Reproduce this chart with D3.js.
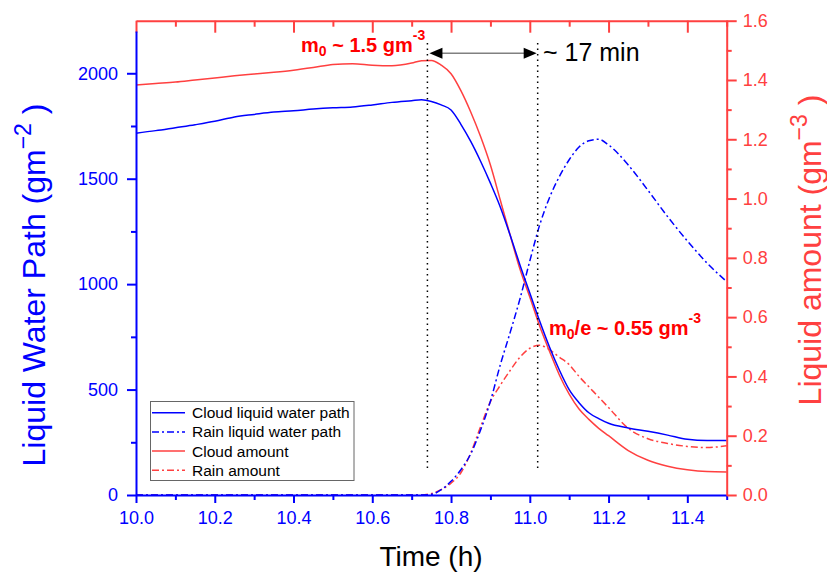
<!DOCTYPE html>
<html><head><meta charset="utf-8">
<script src="https://cdn.jsdelivr.net/npm/d3@7"></script>
<style>body{margin:0;background:#fff}svg{display:block}text{font-family:Arial,"Liberation Sans",sans-serif}</style>
</head><body>
<svg id="c" width="827" height="576"></svg>
<script>
// ---- data ----
const time = [10.00,10.05,10.10,10.15,10.20,10.25,10.30,10.35,10.40,10.45,10.50,10.55,10.60,10.65,10.70,10.725,10.75,10.775,10.80,10.825,10.85,10.875,10.90,10.925,10.95,10.975,11.00,11.025,11.05,11.075,11.10,11.125,11.15,11.175,11.20,11.25,11.30,11.35,11.40,11.45,11.50];
const cloudLWP = [1716,1728,1742,1756,1772,1793,1805,1816,1822,1830,1836,1840,1850,1862,1870,1874,1866,1850,1826,1758,1677,1583,1479,1366,1233,1091,958,825,702,593,500,438,390,362,340,318,302,284,264,258,258];
const rainLWP = [0,0,0,0,0,0,0,0,0,0,0,0,0,0,0,0,3,25,65,120,195,308,445,617,770,930,1110,1280,1410,1510,1590,1650,1680,1687,1660,1565,1445,1320,1205,1100,1012];
const cloudAmt = [1.383,1.388,1.393,1.400,1.407,1.414,1.420,1.426,1.433,1.442,1.452,1.455,1.450,1.448,1.457,1.465,1.466,1.450,1.421,1.364,1.292,1.209,1.113,0.995,0.877,0.762,0.668,0.570,0.485,0.405,0.340,0.290,0.255,0.225,0.200,0.150,0.117,0.097,0.085,0.079,0.078];
const rainAmt = [0,0,0,0,0,0,0,0,0,0,0,0,0,0,0,0,0.005,0.018,0.040,0.075,0.142,0.230,0.315,0.370,0.420,0.465,0.495,0.505,0.490,0.465,0.440,0.400,0.365,0.330,0.295,0.225,0.190,0.174,0.164,0.160,0.166];
const xTicks = [10.0,10.2,10.4,10.6,10.8,11.0,11.2,11.4];
const xMinor = [10.1,10.3,10.5,10.7,10.9,11.1,11.3,11.5];
const yLTicks = [0,500,1000,1500,2000];
const yLMinor = [250,750,1250,1750];
const yRTicks = [0,0.2,0.4,0.6,0.8,1.0,1.2,1.4,1.6];
const yRMinor = [0.1,0.3,0.5,0.7,0.9,1.1,1.3,1.5];
const legendLabels = ["Cloud liquid water path","Rain liquid water path","Cloud amount","Rain amount"];
const markTimes = [10.74, 11.02];

// ---- drawing ----
const BLUE = "#0000ff", RED = "#ff4040", RED2 = "#ff0000";
const svg = d3.select("#c");
const x = d3.scaleLinear([10, 11.5], [136, 726.7]);
const yL = d3.scaleLinear([0, 2200], [495, 31.1]);
const yR = d3.scaleLinear([0, 1.6], [495, 20.7]);

// lines (drawn first, axes on top)
const series = [
  {vals: cloudLWP, y: yL, color: BLUE, dash: null},
  {vals: rainLWP, y: yL, color: BLUE, dash: "7,3,2,3"},
  {vals: cloudAmt, y: yR, color: RED, dash: null},
  {vals: rainAmt, y: yR, color: RED, dash: "7,3,2,3"}
];
const plot = svg.append("g");
[2,3,0,1].forEach(i=>{
  const s = series[i];
  const line = d3.line().x((d,j)=>x(time[j])).y(d=>s.y(d)).curve(d3.curveMonotoneX);
  plot.append("path").attr("d", line(s.vals)).attr("fill","none")
    .attr("stroke", s.color).attr("stroke-width", 1.5)
    .attr("stroke-dasharray", s.dash);
});

function styleAxis(g, color, size) {
  g.selectAll("path,line").attr("stroke", color).attr("stroke-width", 2);
  g.selectAll("text").attr("fill", color).attr("font-size", size);
}
// bottom axis
svg.append("g").attr("transform","translate(0,495)")
  .call(d3.axisBottom(x).tickValues(xTicks).tickSize(8).tickSizeOuter(0).tickPadding(8).tickFormat(d3.format(".1f")))
  .call(g=>styleAxis(g,BLUE,"18px"));
svg.append("g").attr("transform","translate(0,495)")
  .call(d3.axisBottom(x).tickValues(xMinor).tickSize(5).tickSizeOuter(0).tickFormat(""))
  .call(g=>{styleAxis(g,BLUE,"18px");g.select(".domain").remove();});
// top axis (red, inward)
svg.append("g").attr("transform","translate(0,20.7)")
  .call(d3.axisBottom(x).tickValues(xTicks).tickSize(12).tickSizeOuter(0).tickFormat(""))
  .call(g=>styleAxis(g,RED,"18px"));
svg.append("g").attr("transform","translate(0,20.7)")
  .call(d3.axisBottom(x).tickValues(xMinor).tickSize(6).tickSizeOuter(0).tickFormat(""))
  .call(g=>{styleAxis(g,RED,"18px");g.select(".domain").remove();});
// left axis
svg.append("g").attr("transform","translate(136,0)")
  .call(d3.axisLeft(yL).tickValues(yLTicks).tickSize(9).tickSizeOuter(0).tickPadding(9).tickFormat(d3.format("d")))
  .call(g=>styleAxis(g,BLUE,"18px"));
svg.append("g").attr("transform","translate(136,0)")
  .call(d3.axisLeft(yL).tickValues(yLMinor).tickSize(5).tickSizeOuter(0).tickFormat(""))
  .call(g=>{styleAxis(g,BLUE,"18px");g.select(".domain").remove();});
// right axis
svg.append("g").attr("transform","translate(726.7,0)")
  .call(d3.axisRight(yR).tickValues(yRTicks).tickSize(10).tickSizeOuter(0).tickPadding(6).tickFormat(d3.format(".1f")))
  .call(g=>styleAxis(g,RED,"18px"));
svg.append("g").attr("transform","translate(726.7,0)")
  .call(d3.axisRight(yR).tickValues(yRMinor).tickSize(5).tickSizeOuter(0).tickFormat(""))
  .call(g=>{styleAxis(g,RED,"18px");g.select(".domain").remove();});

// dotted marker lines
markTimes.forEach(t=>{
  svg.append("line").attr("x1",x(t)).attr("x2",x(t)).attr("y1",yR(1.525)).attr("y2",yR(0.084))
    .attr("stroke","#000").attr("stroke-width",1.5).attr("stroke-dasharray","1.5,4");
});
// double arrow
const ay = yR(1.49);
svg.append("line").attr("x1",x(markTimes[0])+10).attr("x2",x(markTimes[1])-10).attr("y1",ay).attr("y2",ay)
  .attr("stroke","#808080").attr("stroke-width",1.5);
const ax0 = x(markTimes[0])+2, ax1 = x(markTimes[1])-1;
svg.append("path").attr("d",`M${ax0},${ay} l13,-5.5 l0,11 z`).attr("fill","#000");
svg.append("path").attr("d",`M${ax1},${ay} l-13,-5.5 l0,11 z`).attr("fill","#000");
svg.append("text").attr("x",543).attr("y",61).attr("font-size","25px").attr("fill","#000").text("~ 17 min");

// annotations
function annot(xp, yp, parts) {
  const t = svg.append("text").attr("x",xp).attr("y",yp).attr("font-size","20px").attr("font-weight","bold").attr("fill",RED2);
  parts.forEach(p=>{
    const ts = t.append("tspan").text(p.s);
    if (p.sub) ts.attr("font-size","14px").attr("dy",4);
    else if (p.sup) ts.attr("font-size","14px").attr("dy",-12);
    else if (p.back) ts.attr("dy",p.back);
  });
}
annot(301, 52, [{s:"m"},{s:"0",sub:true},{s:" ~ 1.5 gm",back:-4},{s:"-3",sup:true}]);
annot(549, 335, [{s:"m"},{s:"0",sub:true},{s:"/e ~ 0.55 gm",back:-4},{s:"-3",sup:true}]);

// axis titles
svg.append("text").attr("x",431).attr("y",566).attr("text-anchor","middle").attr("font-size","28px").attr("fill","#000").text("Time (h)");
const lt = svg.append("text").attr("transform","translate(45,285) rotate(-90)").attr("text-anchor","middle").attr("font-size","32px").attr("fill",BLUE);
lt.append("tspan").text("Liquid Water Path (gm");
lt.append("tspan").attr("font-size","23px").attr("dy",-14).text("\u22122");
lt.append("tspan").attr("dy",14).text(" )");
const rt = svg.append("text").attr("transform","translate(821,250) rotate(-90)").attr("text-anchor","middle").attr("font-size","32px").attr("fill",RED);
rt.append("tspan").text("Liquid amount (gm");
rt.append("tspan").attr("font-size","23px").attr("dy",-14).text("\u22123");
rt.append("tspan").attr("dy",14).text(" )");

// legend
const lg = svg.append("g");
lg.append("rect").attr("x",150.5).attr("y",401.5).attr("width",203.5).attr("height",79)
  .attr("fill","#fff").attr("stroke","#666").attr("stroke-width",1);
legendLabels.forEach((lab,i)=>{
  const s = series[i];
  const yy = 412.7 + i*19.2;
  lg.append("line").attr("x1",152).attr("x2",185).attr("y1",yy).attr("y2",yy)
    .attr("stroke",s.color).attr("stroke-width",1.5).attr("stroke-dasharray",s.dash);
  lg.append("text").attr("x",192).attr("y",yy+5.5).attr("font-size","15.5px").attr("fill","#000").text(lab);
});
</script>
</body></html>
